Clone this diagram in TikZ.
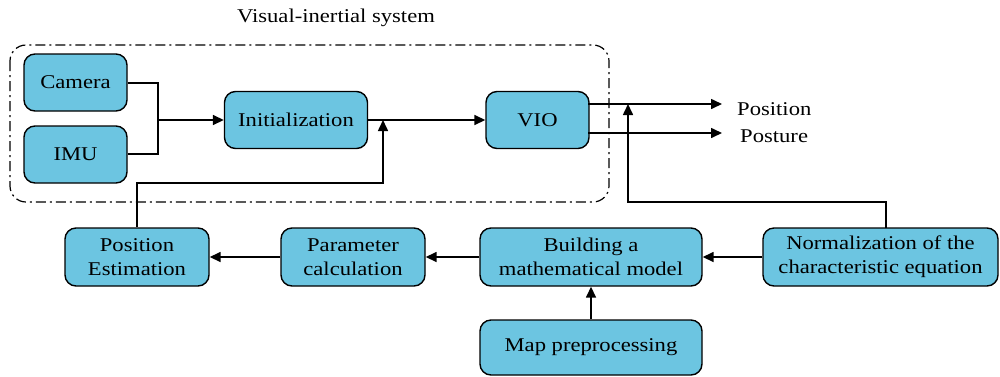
\documentclass[tikz,border=0pt]{standalone}
\usepackage{fontspec}
\setmainfont{Liberation Serif}[FakeStretch=1.16]
\usetikzlibrary{arrows.meta}
\definecolor{boxfill}{RGB}{108,197,225}
\begin{document}
\begin{tikzpicture}[x=1pt,y=-1pt,
  blk/.style={draw=black, line width=1.4pt, fill=boxfill, rounded corners=11pt,
    inner sep=0pt, align=center, font=\fontsize{19.5}{24}\selectfont},
  conn/.style={line width=1.6pt},
  arr/.style={conn, -{Triangle[length=11pt,width=10pt]}},
  lbl/.style={inner sep=0pt, font=\fontsize{19.5}{24}\selectfont}]
\useasboundingbox (0,0) rectangle (1000,376);
% dash-dot frame
\draw[line width=1.2pt, rounded corners=16pt, dash pattern=on 10pt off 4pt on 2pt off 4pt]
  (10,45) rectangle (609,202);
\node[lbl] (title) at (336,18) {Visual-inertial system};
% nodes
\node[blk, minimum width=103pt, minimum height=57pt] (cam) at (75.5,82.5) {Camera};
\node[blk, minimum width=103pt, minimum height=57pt] (imu) at (75.5,154.5) {IMU};
\node[blk, minimum width=143pt, minimum height=57pt] (init) at (296,120) {Initialization};
\node[blk, minimum width=103pt, minimum height=57pt] (vio) at (537.5,120) {VIO};
\node[blk, minimum width=144pt, minimum height=58pt] (pe) at (137,257) {Position\\Estimation};
\node[blk, minimum width=144pt, minimum height=58pt] (pc) at (353,257) {Parameter\\calculation};
\node[blk, minimum width=222pt, minimum height=58pt] (bm) at (591,257) {Building a\\mathematical model};
\node[blk, minimum width=235pt, minimum height=58pt] (norm) at (880.5,257) {Normalization of the\\characteristic equation};
\node[blk, minimum width=222pt, minimum height=55pt] (map) at (591,347.5) {Map preprocessing};
\node[lbl, anchor=west] (pos) at (737,109) {Position};
\node[lbl, anchor=west] (post) at (740,136) {Posture};
% coordinates
\coordinate (j1) at (158,120);
\coordinate (fb) at (383,183);
\coordinate (fbt) at (383,120);
\coordinate (nt) at (886,228);
\coordinate (nb) at (628,202);
\coordinate (nbt) at (628,104);
\coordinate (o1s) at (588,104);
\coordinate (o1e) at (722,104);
\coordinate (o2s) at (588,133);
\coordinate (o2e) at (722,133);
% connectors
\draw[conn] (cam.east |- 0,83) -| (j1);
\draw[conn] (imu.east |- 0,154) -| (j1);
\draw[arr] (j1) -- (init.west);
\draw[arr] (init.east) -- (vio.west);
\draw[arr] (pe.north) |- (fb) -- (fbt);
\draw[arr] (o1s) -- (o1e);
\draw[arr] (o2s) -- (o2e);
\draw[arr] (nt) |- (nb) -- (nbt);
\draw[arr] (norm.west) -- (bm.east);
\draw[arr] (bm.west) -- (pc.east);
\draw[arr] (pc.west) -- (pe.east);
\draw[arr] (map.north) -- (bm.south);
\end{tikzpicture}
\end{document}
